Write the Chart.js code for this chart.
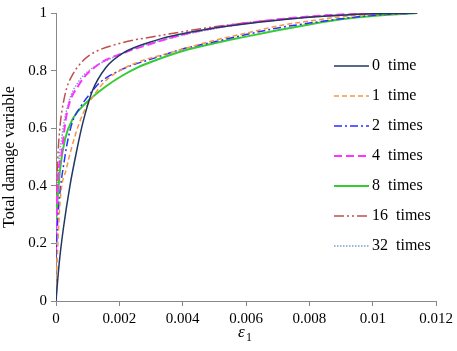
<!DOCTYPE html>
<html>
<head>
<meta charset="utf-8">
<script src="https://cdn.jsdelivr.net/npm/chart.js@4"></script>
<style>
  html, body { margin: 0; padding: 0; background: #fff; }
  #wrap { width: 457px; height: 351px; }
</style>
</head>
<body>
<div id="wrap"><canvas id="grafico"></canvas></div>
<script>
// ==== datos ====
const nombres = ["0  time", "1  time", "2  times", "4  times", "8  times", "16  times", "32  times"];

const x0 = [0, 0.0001, 0.00023, 0.00044, 0.00065, 0.00085, 0.00115, 0.00157, 0.0021, 0.00315, 0.004, 0.005, 0.006, 0.007, 0.008, 0.009, 0.010, 0.0114];
const y0 = [0, 0.13, 0.25, 0.40, 0.52, 0.62, 0.73, 0.81, 0.86, 0.905, 0.928, 0.948, 0.963, 0.975, 0.985, 0.992, 0.997, 1];

const x1 = [0, 0.00013, 0.00033, 0.0006, 0.00085, 0.0012, 0.00157, 0.0021, 0.0026, 0.0037, 0.005, 0.006, 0.007, 0.008, 0.009, 0.010, 0.0114];
const y1 = [0.05, 0.345, 0.46, 0.573, 0.65, 0.715, 0.765, 0.805, 0.83, 0.865, 0.905, 0.93, 0.955, 0.972, 0.987, 0.995, 1];

const x2 = [0, 0.00006, 0.00028, 0.0005, 0.00075, 0.00115, 0.0014, 0.0021, 0.00315, 0.004, 0.005, 0.006, 0.007, 0.008, 0.009, 0.010, 0.0114];
const y2 = [0.15, 0.29, 0.5, 0.615, 0.67, 0.73, 0.76, 0.805, 0.845, 0.875, 0.9, 0.925, 0.948, 0.965, 0.98, 0.992, 1];

const x4 = [0, 0.00003, 0.00018, 0.00034, 0.00072, 0.00135, 0.0021, 0.00315, 0.004, 0.005, 0.006, 0.007, 0.008, 0.009, 0.010, 0.0114];
const y4 = [0.17, 0.345, 0.515, 0.65, 0.75, 0.822, 0.86, 0.898, 0.925, 0.948, 0.965, 0.978, 0.988, 0.995, 0.998, 1];

const x8 = [0, 0.00013, 0.00028, 0.00054, 0.00097, 0.00157, 0.0021, 0.0026, 0.003, 0.004, 0.005, 0.006, 0.007, 0.008, 0.009, 0.010, 0.0114];
const y8 = [0.28, 0.458, 0.56, 0.635, 0.69, 0.745, 0.783, 0.812, 0.83, 0.868, 0.895, 0.918, 0.94, 0.96, 0.978, 0.99, 1];

const x16 = [0, 0.00005, 0.00013, 0.00021, 0.00034, 0.00052, 0.0007, 0.00104, 0.0021, 0.00315, 0.004, 0.005, 0.006, 0.007, 0.008, 0.009, 0.010, 0.0114];
const y16 = [0.29, 0.48, 0.61, 0.675, 0.74, 0.785, 0.815, 0.852, 0.897, 0.919, 0.935, 0.952, 0.966, 0.977, 0.986, 0.993, 0.997, 1];

const x32 = [0, 0.00005, 0.0002, 0.0004, 0.0007, 0.00104, 0.0018, 0.0027, 0.0035, 0.0045, 0.0055, 0.0065, 0.0075, 0.0085, 0.0095, 0.0114];
const y32 = [0.2, 0.4, 0.58, 0.69, 0.76, 0.80, 0.846, 0.885, 0.91, 0.935, 0.955, 0.97, 0.981, 0.99, 0.996, 1];

// ==== estilos de cada serie ====
const colores = ["#1F3864", "#F79646", "#2E2EFF", "#FF33FF", "#33CC33", "#C0504D", "#7F9FCF"];
const trazos = [[], [5, 3], [8, 3, 2, 3], [8, 4], [], [10, 3, 2, 3, 2, 3], [1.5, 1.5]];
const grosores = [1.5, 1.5, 1.5, 2, 2, 1.5, 1.5];

const series = [[x0, y0], [x1, y1], [x2, y2], [x4, y4], [x8, y8], [x16, y16], [x32, y32]];

function puntos(xs, ys) {
    return xs.map((v, i) => ({ x: v, y: ys[i] }));
}

// quitar ceros sobrantes: 1.0 -> 1, 0.010 -> 0.01
function formatear(v) {
    return String(Number(v.toFixed(4)));
}

const fuente = "'Liberation Serif', 'Times New Roman', serif";

// leyenda dibujada dentro del area del grafico
const leyendaPlugin = {
    id: "leyendaInterna",
    afterDraw(chart) {
        const ctx = chart.ctx;
        ctx.save();
        chart.data.datasets.forEach((ds, i) => {
            const yy = 66 + i * 30;
            ctx.beginPath();
            ctx.strokeStyle = ds.borderColor;
            ctx.lineWidth = ds.borderWidth;
            ctx.setLineDash(ds.borderDash);
            ctx.moveTo(334, yy);
            ctx.lineTo(369, yy);
            ctx.stroke();
            ctx.setLineDash([]);
            ctx.fillStyle = "#000";
            ctx.font = "16px " + fuente;
            ctx.textBaseline = "middle";
            ctx.textAlign = "left";
            ctx.fillText(ds.label, 372, yy);
        });
        // titulo del eje x: epsilon sub 1
        ctx.fillStyle = "#000";
        ctx.textBaseline = "alphabetic";
        ctx.font = "italic 17px " + fuente;
        ctx.fillText("ε", 238, 337);
        ctx.font = "12px " + fuente;
        ctx.fillText("1", 246, 341);
        ctx.restore();
    }
};

new Chart(document.getElementById("grafico"), {
    type: "line",
    data: {
        datasets: series.map((s, i) => ({
            label: nombres[i],
            data: puntos(s[0], s[1]),
            borderColor: colores[i],
            borderDash: trazos[i],
            borderWidth: grosores[i],
            pointRadius: 0,
            fill: false,
            cubicInterpolationMode: "monotone"
        }))
    },
    options: {
        responsive: true,
        maintainAspectRatio: false,
        animation: false,
        layout: { padding: { top: 8, right: 20, left: 0, bottom: 0 } },
        plugins: {
            legend: { display: false },
            tooltip: { enabled: false }
        },
        scales: {
            x: {
                type: "linear",
                min: 0,
                max: 0.012,
                ticks: {
                    stepSize: 0.002, color: "#000", font: { family: fuente, size: 15 }, padding: 4, maxRotation: 0,
                    callback: (v) => formatear(v)
                },
                grid: { drawOnChartArea: false, tickLength: 5, color: "#888" },
                border: { color: "#888" },
                afterFit(scale) { scale.height = 50; }
            },
            y: {
                min: 0,
                max: 1,
                ticks: {
                    stepSize: 0.2, color: "#000", font: { family: fuente, size: 15 }, padding: 4,
                    callback: (v) => formatear(v)
                },
                grid: { drawOnChartArea: false, tickLength: 5, color: "#888" },
                border: { color: "#888" },
                title: { display: true, text: "Total damage variable", color: "#000", font: { family: fuente, size: 16 }, padding: 0 },
                afterFit(scale) { scale.width = 56; }
            }
        }
    },
    plugins: [leyendaPlugin]
});
</script>
</body>
</html>
